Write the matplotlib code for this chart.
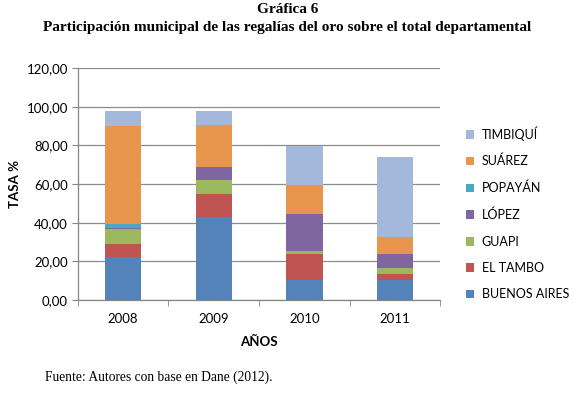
import numpy as np
import matplotlib
matplotlib.use("Agg")
import matplotlib.pyplot as plt

# Data
years = ["2008", "2009", "2010", "2011"]
buenos_aires = [22.1, 42.8, 10.2, 10.3]
el_tambo = [7.0, 11.9, 13.6, 3.1]
guapi = [7.4, 7.4, 1.5, 3.0]
lopez = [0.9, 6.5, 19.3, 7.4]
popayan = [1.8, 0.0, 0.0, 0.0]
suarez = [50.6, 22.1, 14.9, 9.0]
timbiqui = [8.0, 7.1, 20.0, 41.0]

series = [
    ("BUENOS AIRES", buenos_aires, "#5383B8"),
    ("EL TAMBO", el_tambo, "#BE5550"),
    ("GUAPI", guapi, "#9BB85F"),
    ("LÓPEZ", lopez, "#8066A0"),
    ("POPAYÁN", popayan, "#4BA8C2"),
    ("SUÁREZ", suarez, "#E8964D"),
    ("TIMBIQUÍ", timbiqui, "#A3B8DA"),
]

sans = ["Lato", "DejaVu Sans"]
serif = ["Liberation Serif", "DejaVu Serif"]

fig = plt.figure(figsize=(5.75, 3.93), dpi=100)
ax = fig.add_axes([0.135, 0.2366, 0.631, 0.5904])

x = np.arange(len(years))
bottom = np.zeros(len(years))
handles = []
for name, vals, col in series:
    b = ax.bar(x, vals, width=0.4, bottom=bottom, color=col, label=name, zorder=3)
    handles.append(b)
    bottom += np.array(vals)

ax.set_xlim(-0.5, len(years) - 0.5)
ax.set_ylim(0, 120)
ax.set_yticks(np.arange(0, 121, 20))
ax.set_yticklabels([f"{v:.2f}".replace(".", ",") for v in range(0, 121, 20)],
                   fontsize=9.5, family=sans)
ax.set_xticks(x)
ax.set_xticklabels(years, fontsize=9.5, family=sans)
ax.set_xticks(np.arange(-0.5, len(years)), minor=True)
ax.tick_params(axis="x", which="major", length=0, pad=9)
ax.tick_params(axis="x", which="minor", length=4, color="#868686")
ax.tick_params(axis="y", length=4, color="#868686", pad=3)
ax.grid(axis="y", color="#8C8C8C", linewidth=0.9, zorder=0)
for s in ["top", "right"]:
    ax.spines[s].set_visible(False)
for s in ["left", "bottom"]:
    ax.spines[s].set_color("#868686")
    ax.spines[s].set_linewidth(0.9)

ax.set_ylabel("TASA %", fontsize=9.5, fontweight="bold", family=sans, labelpad=4)
ax.set_xlabel("AÑOS", fontsize=9.5, fontweight="bold", family=sans, labelpad=8)

leg = fig.legend(handles[::-1], [s[0] for s in series][::-1],
                 loc="upper left", bbox_to_anchor=(0.79, 0.708),
                 frameon=False, prop={"family": sans, "size": 9},
                 handlelength=0.7, handleheight=0.7, handletextpad=0.6,
                 labelspacing=1.15)

fig.text(0.5, 0.975, "Gráfica 6", ha="center", va="center",
         fontsize=11, fontweight="bold", family=serif)
fig.text(0.5, 0.93, "Participación municipal de las regalías del oro sobre el total departamental",
         ha="center", va="center", fontsize=11, fontweight="bold", family=serif)
fig.text(0.078, 0.04, "Fuente: Autores con base en Dane (2012).", ha="left", va="center",
         fontsize=9.75, family=serif)

fig.savefig("out.png", dpi=100)
